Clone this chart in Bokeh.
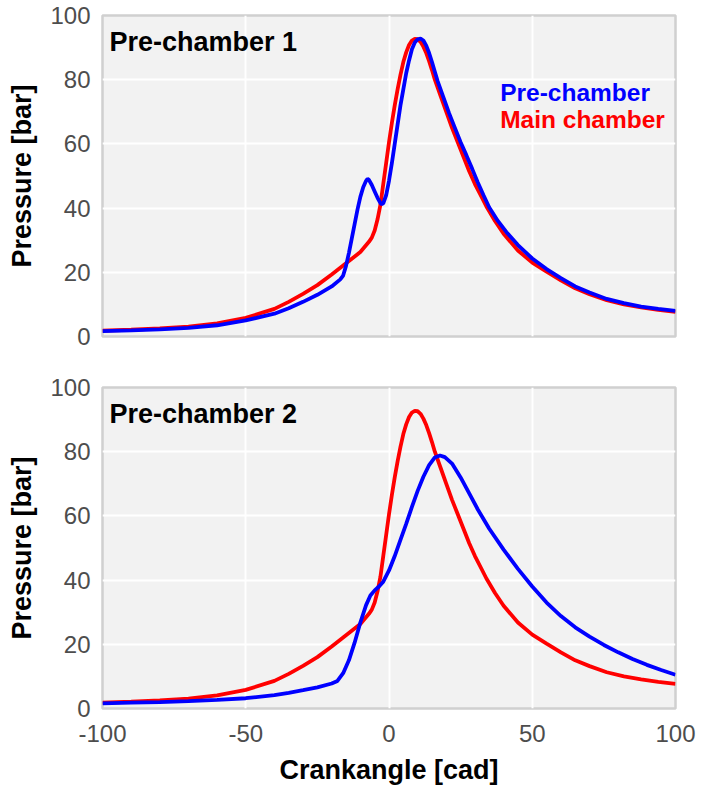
from bokeh.plotting import figure
from bokeh.layouts import column
from bokeh.models import Label, FixedTicker, Range1d
from bokeh.embed import file_html
from bokeh.resources import INLINE

# ---------------- data ----------------
x_ticks = [-100, -50, 0, 50, 100]
x_tick_labels = ["-100", "-50", "0", "50", "100"]
y_ticks = [0, 20, 40, 60, 80, 100]
panel_titles = ["Pre-chamber 1", "Pre-chamber 2"]
legend_labels = ["Pre-chamber", "Main chamber"]

# main chamber (red), same in both panels
main_cad = [-100, -90, -80, -70, -60, -50, -40, -35, -30, -25, -20, -15, -10, -7, -6, -5, -4, -3,
            -2, -1, 0, 1, 2, 3, 4, 5, 6, 7, 8, 9, 10, 11, 12, 13, 14, 15, 16, 18, 20, 22, 24, 26,
            28, 30, 32, 34, 37, 40, 45, 50, 55, 60, 65, 70, 76, 82, 88, 94, 100]
main_p = [1.8, 2.1, 2.5, 3.1, 4.1, 5.8, 8.6, 10.8, 13.3, 16.0, 19.3, 22.8, 26.3, 29.5, 30.8, 33.0,
          36.5, 41.0, 47.5, 54.0, 60.5, 66.5, 72.0, 77.0, 81.5, 85.5, 88.5, 90.8, 92.2, 92.7, 92.6,
          91.8, 90.3, 88.3, 85.8, 83.0, 80.0, 75.0, 70.0, 65.0, 60.5, 56.0, 51.5, 47.5, 44.0, 40.5,
          36.0, 32.0, 26.8, 23.0, 20.2, 17.5, 15.0, 13.2, 11.3, 10.0, 9.1, 8.3, 7.7]

# pre-chamber 1 (blue, top panel)
pre1_cad = [-100, -90, -80, -70, -60, -50, -40, -35, -30, -25, -20, -17, -16, -15, -14, -13, -12,
            -11, -10, -9, -8, -7.5, -7, -6, -5, -4, -3, -2.5, -2, -1, 0, 1, 2, 3, 4, 5, 6, 7, 8, 9,
            10, 11, 12, 13, 14, 15, 16, 17, 19, 21, 23, 25, 27, 29, 31, 33, 35, 38, 41, 45, 50, 55,
            60, 65, 70, 76, 82, 88, 94, 100]
pre1_p = [1.7, 1.9, 2.2, 2.7, 3.5, 5.0, 7.1, 8.8, 10.8, 13.0, 15.6, 17.8, 19.0, 22.0, 26.0, 30.5,
          35.0, 39.5, 43.5, 46.5, 48.5, 49.1, 48.8, 47.2, 45.2, 43.2, 41.6, 41.2, 41.5, 44.0, 48.5,
          54.0, 60.0, 66.0, 72.0, 77.0, 82.0, 86.0, 89.5, 91.6, 92.6, 92.8, 92.2, 90.6, 88.3, 85.5,
          82.5, 79.5, 74.5, 69.5, 65.0, 60.5, 56.5, 52.3, 48.0, 44.0, 40.2, 36.0, 32.5, 28.5, 24.3,
          21.0, 18.2, 15.6, 13.7, 11.7, 10.4, 9.3, 8.6, 8.0]

# pre-chamber 2 (blue, bottom panel)
pre2_cad = [-100, -90, -80, -70, -60, -50, -40, -35, -30, -25, -20, -18, -16, -14, -12, -10, -8,
            -6.5, -5, -3.5, -2, 0, 2, 4, 6, 8, 10, 12, 14, 16, 17.8, 19.5, 22, 25, 28, 31, 35, 40,
            45, 50, 55, 60, 65, 70, 75, 80, 85, 90, 95, 100]
pre2_p = [1.6, 1.8, 2.0, 2.3, 2.7, 3.2, 4.2, 4.9, 5.7, 6.6, 7.8, 8.6, 11.0, 15.0, 20.5, 26.8, 32.2,
          35.2, 36.8, 38.0, 39.5, 43.0, 47.5, 52.5, 57.5, 62.8, 67.8, 72.2, 75.8, 78.2, 78.8, 78.3,
          76.3, 72.0, 67.0, 62.0, 56.0, 49.5, 43.5, 38.0, 33.0, 28.8, 25.3, 22.4, 19.8, 17.5, 15.4,
          13.6, 12.0, 10.5]

FONT = "Liberation Sans"
BLUE = "#0000ff"
RED = "#ff0000"


def make_panel(title, pre_cad, pre_p, bottom, legend):
    p = figure(frame_width=573, frame_height=321,
               x_range=Range1d(-100, 100), y_range=Range1d(0, 100),
               output_backend="svg", toolbar_location=None,
               min_border_left=102, min_border_right=39,
               min_border_top=25 if bottom else 15,
               min_border_bottom=77 if bottom else 26)
    p.background_fill_color = "#f2f2f2"
    p.border_fill_color = "white"
    p.outline_line_color = "#d0d0d0"
    p.outline_line_width = 2.5

    for g in p.grid:
        g.grid_line_color = "white"
        g.grid_line_width = 2
    p.xgrid.ticker = FixedTicker(ticks=x_ticks)
    p.ygrid.ticker = FixedTicker(ticks=y_ticks)

    p.yaxis.ticker = FixedTicker(ticks=y_ticks)
    p.xaxis.ticker = FixedTicker(ticks=x_ticks)
    p.xaxis.major_label_overrides = {t: s for t, s in zip(x_ticks, x_tick_labels)}
    for ax in p.xaxis + p.yaxis:
        ax.axis_line_color = None
        ax.major_tick_line_color = None
        ax.minor_tick_line_color = None
        ax.major_tick_out = 0
        ax.major_tick_in = 0
        ax.minor_tick_out = 0
        ax.minor_tick_in = 0
        ax.major_label_text_font = FONT
        ax.major_label_text_font_size = "24px"
        ax.major_label_text_color = "#4d4d4d"
        ax.axis_label_text_font = FONT
        ax.axis_label_text_font_style = "bold"
        ax.axis_label_text_font_size = "27px"
        ax.axis_label_text_color = "black"
    p.yaxis.axis_label = "Pressure [bar]"
    p.yaxis.major_label_standoff = 12
    p.yaxis.axis_label_standoff = 10
    if bottom:
        p.xaxis.axis_label = "Crankangle [cad]"
        p.xaxis.major_label_standoff = 16
        p.xaxis.axis_label_standoff = 10
    else:
        p.xaxis.visible = False

    p.line(main_cad, main_p, line_color=RED, line_width=3.8)
    p.line(pre_cad, pre_p, line_color=BLUE, line_width=3.8)

    p.add_layout(Label(x=-97.6, y=91.6, text=title, text_font=FONT, text_font_style="bold",
                       text_font_size="27px", text_color="black", text_baseline="alphabetic",
                       text_align="left"))
    if legend:
        p.add_layout(Label(x=38.8, y=76.0, text=legend_labels[0], text_font=FONT,
                           text_font_style="bold", text_font_size="24.5px", text_color=BLUE,
                           text_baseline="alphabetic", text_align="left"))
        p.add_layout(Label(x=38.8, y=67.6, text=legend_labels[1], text_font=FONT,
                           text_font_style="bold", text_font_size="24.5px", text_color=RED,
                           text_baseline="alphabetic", text_align="left"))
    return p


p1 = make_panel(panel_titles[0], pre1_cad, pre1_p, bottom=False, legend=True)
p2 = make_panel(panel_titles[1], pre2_cad, pre2_p, bottom=True, legend=False)
layout = column(p1, p2, spacing=0)

open("out.html", "w").write(file_html(layout, INLINE))
